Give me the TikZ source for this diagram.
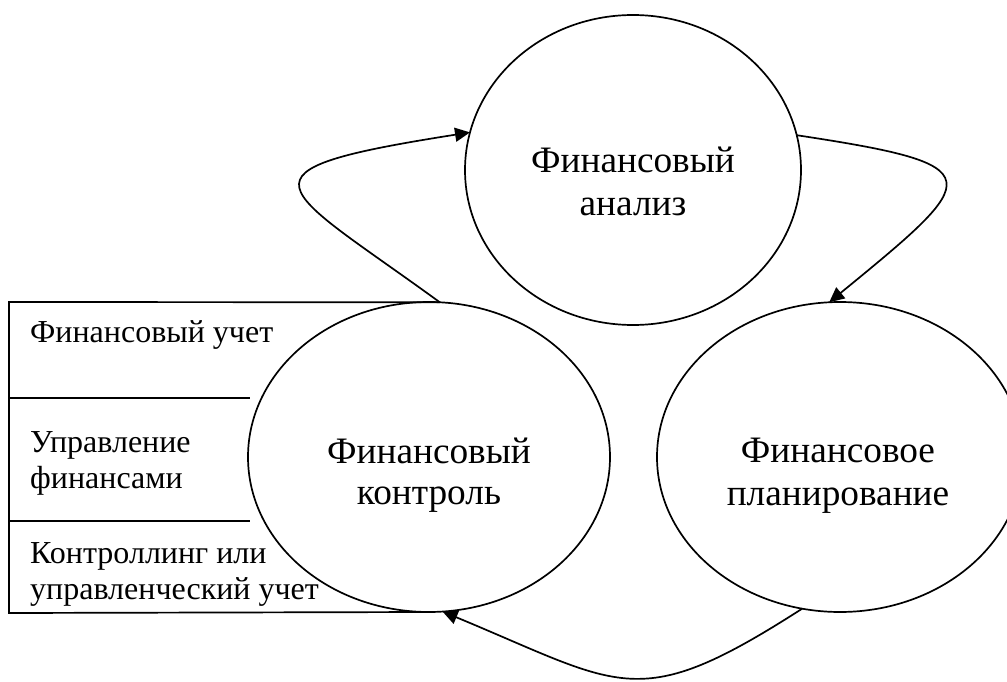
\documentclass[tikz,border=0pt]{standalone}
\usepackage{fontspec}
\setmainfont{Liberation Serif}
\usetikzlibrary{arrows.meta,shapes.geometric}

\tikzset{
  stroke/.style={line width=1.7pt, black},
  stage/.style={ellipse, draw, stroke, inner sep=0pt, outer sep=0pt},
  bigtext/.style={anchor=base, inner sep=0pt, font=\fontsize{37.3}{41}\selectfont},
  boxtext/.style={anchor=base west, inner sep=0pt, font=\fontsize{32}{36}\selectfont},
  flow/.style={stroke, -{Triangle[length=15pt,width=14pt]}},
}

\begin{document}
\begin{tikzpicture}[x=1pt, y=-1pt]
  \useasboundingbox (0,0) rectangle (1007,682);

  % the three stages of the cycle
  \node[stage, minimum width=336pt, minimum height=310pt] (fa) at (633,170) {};
  \node[stage, minimum width=362pt, minimum height=310pt] (fk) at (429,457) {};
  \node[stage, minimum width=366pt, minimum height=310pt] (fp) at (840,457) {};

  \node[bigtext] (fa1) at (633,173) {Финансовый};
  \node[bigtext] (fa2) at (633,215) {анализ};
  \node[bigtext] (fk1) at (429,463) {Финансовый};
  \node[bigtext] (fk2) at (429,504) {контроль};
  \node[bigtext] (fp1) at (838,462) {Финансовое};
  \node[bigtext] (fp2) at (838,505) {планирование};

  % side table attached to the control stage
  \coordinate (bTL) at (9,302);
  \coordinate (bBL) at (9,613);
  \coordinate (r1L) at (9,398);
  \coordinate (r1R) at (250,398);
  \coordinate (r2L) at (9,521);
  \coordinate (r2R) at (250,521);
  \draw[stroke] (fk.86) -- (bTL) -- (bBL) -- (fk.south);
  \draw[stroke] (r1L) -- (r1R);
  \draw[stroke] (r2L) -- (r2R);

  \node[boxtext] (t1) at (30,342) {Финансовый учет};
  \node[boxtext] (t2) at (30,452) {Управление};
  \node[boxtext] (t3) at (30,488) {финансами};
  \node[boxtext] (t4) at (30,563) {Контроллинг или};
  \begin{scope}
    \clip (9,521) rectangle (430,612);
    \node[boxtext] (t5) at (30,599) {управленческий учет};
  \end{scope}

  % cycle connectors
  \draw[flow] (fk.86) .. controls +(-162,-118) and +(-248,39) .. (fa.167.6);
  \draw[flow] (fa.12.4) .. controls +(198,30) and +(154,-126) .. (fp.94.8);
  \draw[flow] (fp.256.3) .. controls +(-165,106) and +(181,75) .. (fk.275);
\end{tikzpicture}
\end{document}
